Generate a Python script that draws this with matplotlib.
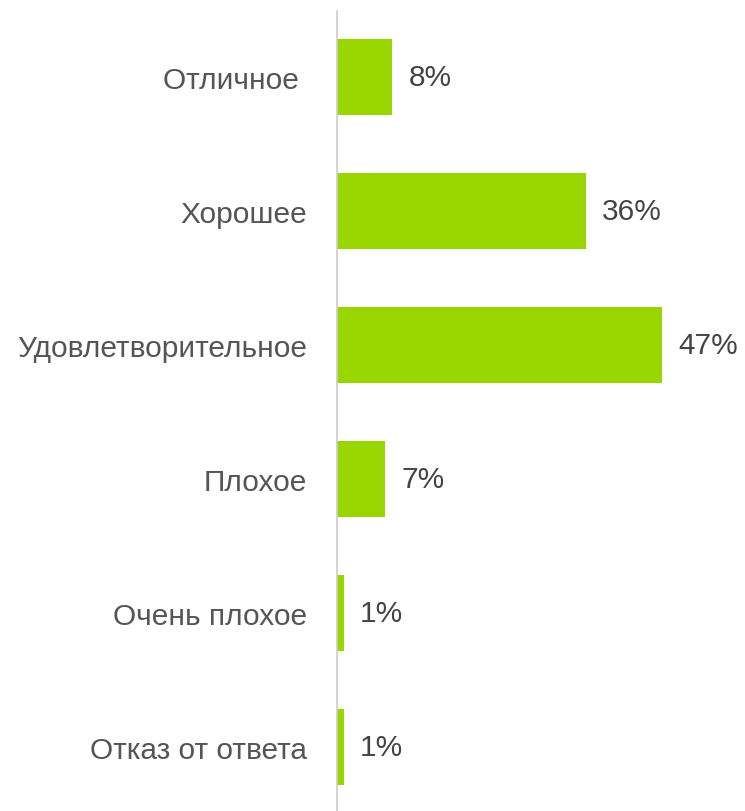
import matplotlib.pyplot as plt

categories = ["Отличное ", "Хорошее", "Удовлетворительное", "Плохое",
              "Очень плохое", "Отказ от ответа"]
values = [8, 36, 47, 7, 1, 1]
value_labels = ["8%", "36%", "47%", "7%", "1%", "1%"]

plt.rcParams['font.family'] = ['Liberation Sans', 'DejaVu Sans']

fig = plt.figure(figsize=(7.45, 8.12), dpi=100)
ax = fig.add_axes([337 / 745, 0, 408 / 745, 800 / 812])

pos = list(range(len(categories)))
ax.barh(pos, values, height=0.57, color="#99d600")

for p, v, lab in zip(pos, values, value_labels):
    ax.annotate(lab, (v, p), xytext=(11.5, 0), textcoords="offset points",
                va="center", ha="left", fontsize=21.5, color="#444444")

ax.set_xlim(0, 408 / 6.915)
ax.set_ylim(-0.4925 + 800 / 134, -0.4925)
ax.set_yticks(pos)
ax.set_yticklabels(categories, fontsize=21.5, color="#555555")
ax.tick_params(axis="y", length=0, pad=21.5)
ax.set_xticks([])

for s in ["top", "right", "bottom"]:
    ax.spines[s].set_visible(False)
ax.spines["left"].set_color("#cccccc")
ax.spines["left"].set_linewidth(1.2)

fig.savefig("out.png", dpi=100)
